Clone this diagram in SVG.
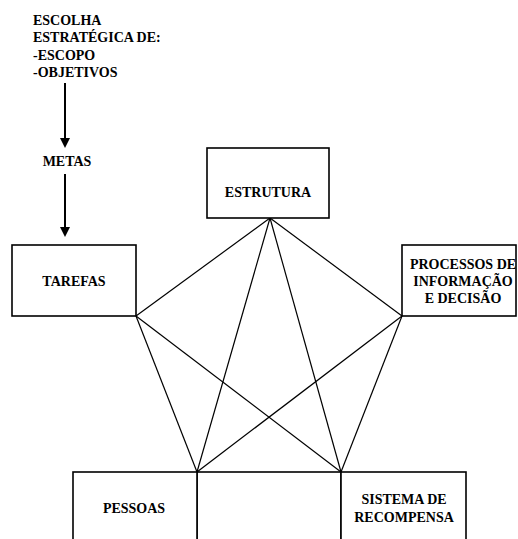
<svg xmlns="http://www.w3.org/2000/svg" width="518" height="539" viewBox="0 0 518 539">
  <defs>
    <style>
      .box { fill: #fff; stroke: #000; stroke-width: 1.6; }
      .link { stroke: #000; stroke-width: 1.2; fill: none; }
      .flow { stroke: #000; stroke-width: 2; fill: none; }
      .c { text-anchor: middle; }
    </style>
  </defs>
  <rect width="518" height="539" fill="#fff"/>

  <g id="connectors">
    <line class="link" x1="270" y1="218" x2="136" y2="316"/>
    <line class="link" x1="270" y1="218" x2="402" y2="316"/>
    <line class="link" x1="270" y1="218" x2="197" y2="472"/>
    <line class="link" x1="270" y1="218" x2="341" y2="472"/>
    <line class="link" x1="136" y1="316" x2="197" y2="472"/>
    <line class="link" x1="136" y1="316" x2="341" y2="472"/>
    <line class="link" x1="402" y1="316" x2="197" y2="472"/>
    <line class="link" x1="402" y1="316" x2="341" y2="472"/>
    <line class="flow" x1="65" y1="83" x2="65" y2="140"/>
    <polygon points="60,138 70,138 65,148" fill="#000"/>
    <line class="flow" x1="65" y1="174" x2="65" y2="229"/>
    <polygon points="60,227 70,227 65,237" fill="#000"/>
  </g>

  <g font-family="Liberation Serif, Times New Roman, serif" font-weight="bold" font-size="14" fill="#000">
    <g id="escolha">
      <text x="33" y="25">ESCOLHA</text>
      <text x="33" y="42">ESTRATÉGICA DE:</text>
      <text x="33" y="60">-ESCOPO</text>
      <text x="33" y="77">-OBJETIVOS</text>
    </g>

    <g id="metas">
      <text class="c" x="67" y="166">METAS</text>
    </g>

    <g id="estrutura">
      <rect class="box" x="207" y="148" width="122" height="70"/>
      <text class="c" x="268" y="197">ESTRUTURA</text>
    </g>

    <g id="tarefas">
      <rect class="box" x="12" y="245" width="124" height="71"/>
      <text class="c" x="74" y="286">TAREFAS</text>
    </g>

    <g id="processos">
      <rect class="box" x="402" y="245" width="114" height="71"/>
      <text class="c" x="463" y="269">PROCESSOS DE</text>
      <text class="c" x="463" y="286">INFORMAÇÃO</text>
      <text class="c" x="463" y="303">E DECISÃO</text>
    </g>

    <g id="meio">
      <rect class="box" x="197" y="472" width="144" height="80"/>
    </g>

    <g id="pessoas">
      <rect class="box" x="73" y="472" width="124" height="80"/>
      <text class="c" x="134" y="513">PESSOAS</text>
    </g>

    <g id="sistema">
      <rect class="box" x="341" y="472" width="125" height="80"/>
      <text class="c" x="404" y="504">SISTEMA DE</text>
      <text class="c" x="404" y="522">RECOMPENSA</text>
    </g>
  </g>
</svg>
